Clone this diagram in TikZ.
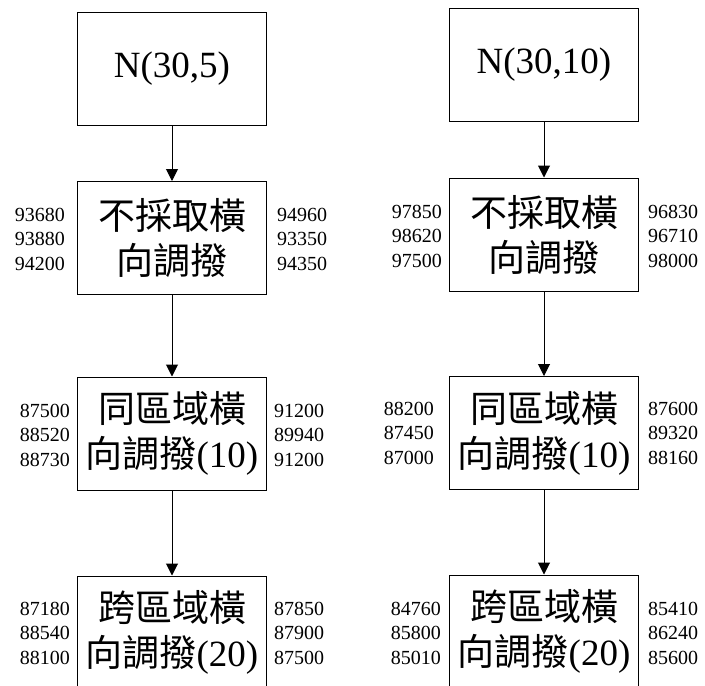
\documentclass[tikz,border=0pt]{standalone}
\usepackage{fontspec}
\setmainfont{Liberation Serif}
\newfontfamily\cjk{Noto Sans CJK TC}
\usetikzlibrary{arrows.meta}

\begin{document}
\begin{tikzpicture}[x=1pt,y=-1pt,>={Triangle[length=12pt,width=12pt]}]
    \clip (0,0) rectangle (705,686);

        \begin{scope}[every node/.style={rectangle,draw,line width=1pt,minimum width=189pt,minimum height=113pt,inner sep=0pt,align=center,font=\fontsize{37}{45}\selectfont}]
            \node (a1) at (172,68.5) {N(30,5)};
            \node (a2) at (172,238) {{\cjk 不採取橫}\\{\cjk 向調撥}};
            \node (a3) at (172,433.5) {{\cjk 同區域橫}\\{\cjk 向調撥}(10)};
            \node (a4) at (172,632.5) {{\cjk 跨區域橫}\\{\cjk 向調撥}(20)};
            \node (b1) at (544,64.5) {N(30,10)};
            \node (b2) at (544,234.5) {{\cjk 不採取橫}\\{\cjk 向調撥}};
            \node (b3) at (544,433) {{\cjk 同區域橫}\\{\cjk 向調撥}(10)};
            \node (b4) at (544,631.5) {{\cjk 跨區域橫}\\{\cjk 向調撥}(20)};
        \end{scope}

        \begin{scope}[every node/.style={inner sep=0pt,font=\fontsize{20}{24.5}\selectfont}]
            \node[anchor=east,align=right] (la2) at (65,239) {93680\\93880\\94200};
            \node[anchor=west,align=left] (ra2) at (277,239) {94960\\93350\\94350};
            \node[anchor=east,align=right] (la3) at (70,435) {87500\\88520\\88730};
            \node[anchor=west,align=left] (ra3) at (274,435) {91200\\89940\\91200};
            \node[anchor=east,align=right] (la4) at (70,633) {87180\\88540\\88100};
            \node[anchor=west,align=left] (ra4) at (274,633) {87850\\87900\\87500};
            \node[anchor=east,align=right] (lb2) at (442,236) {97850\\98620\\97500};
            \node[anchor=west,align=left] (rb2) at (648,236) {96830\\96710\\98000};
            \node[anchor=east,align=right] (lb3) at (434,433) {88200\\87450\\87000};
            \node[anchor=west,align=left] (rb3) at (648,433) {87600\\89320\\88160};
            \node[anchor=east,align=right] (lb4) at (441,633) {84760\\85800\\85010};
            \node[anchor=west,align=left] (rb4) at (648,633) {85410\\86240\\85600};
        \end{scope}

        \begin{scope}[line width=1pt]
            \path [->] (a1) edge (a2);
            \path [->] (a2) edge (a3);
            \path [->] (a3) edge (a4);
            \path [->] (b1) edge (b2);
            \path [->] (b2) edge (b3);
            \path [->] (b3) edge (b4);
        \end{scope}

\end{tikzpicture}
\end{document}
